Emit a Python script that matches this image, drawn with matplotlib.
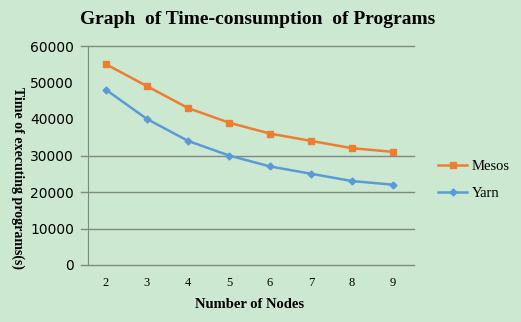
import matplotlib
matplotlib.use("Agg")
import matplotlib.pyplot as plt

nodes = ["2", "3", "4", "5", "6", "7", "8", "9"]
mesos = [55000, 49000, 43000, 39000, 36000, 34000, 32000, 31000]
yarn = [48000, 40000, 34000, 30000, 27000, 25000, 23000, 22000]
yticks = [0, 10000, 20000, 30000, 40000, 50000, 60000]
grid_vals = [0, 10000, 20000, 30000, 60000]

bg = "#cce8d0"
fig = plt.figure(figsize=(5.21, 3.22), dpi=100, facecolor=bg)
ax = fig.add_axes([85.5/521, 1-265/322, (413.5-85.5)/521, (265-46)/322], facecolor=bg)

x = list(range(len(nodes)))
ax.plot(x, mesos, color="#ED7D31", marker="s", markersize=5, linewidth=1.8, label="Mesos")
ax.plot(x, yarn, color="#5B9BD5", marker="D", markersize=3.5, linewidth=1.8, label="Yarn")

ax.set_xlim(-0.5, len(nodes) - 0.5)
ax.set_ylim(0, 60000)
ax.set_xticks(x)
ax.set_xticklabels(nodes, family="Liberation Serif", fontsize=9)
ax.set_yticks(yticks)
ax.set_yticklabels([str(v) for v in yticks], family="Liberation Sans", fontsize=8)
for v in grid_vals:
    ax.axhline(v, color="#7f8a80", linewidth=1.0, zorder=0, xmin=-0.015, clip_on=False)
for s in ["top", "right", "bottom"]:
    ax.spines[s].set_visible(False)
ax.spines["left"].set_color("#7f8a80")
ax.spines["left"].set_position(("data", -0.44))
ax.tick_params(axis="y", length=0, pad=10)
ax.tick_params(axis="x", length=0, pad=9)

fig.text(258/521, 1-20/322, "Graph  of Time-consumption  of Programs", ha="center", va="center",
         family="Liberation Serif", fontweight="bold", fontsize=14)
fig.text(250/521, 1-304/322, "Number of Nodes", ha="center", va="center",
         family="Liberation Serif", fontweight="bold", fontsize=10.5)
fig.text(18/521, 1-178/322, "Time of executing programs(s)", ha="center", va="center",
         rotation=270, family="Liberation Serif", fontweight="bold", fontsize=10)

leg = fig.legend(loc="center left", bbox_to_anchor=(425/521, 1-180/322), frameon=False,
                 prop={"family": "Liberation Serif", "size": 10.5}, handlelength=2.0,
                 labelspacing=0.9, handletextpad=0.3)

fig.savefig("out.png", dpi=100, facecolor=bg)
